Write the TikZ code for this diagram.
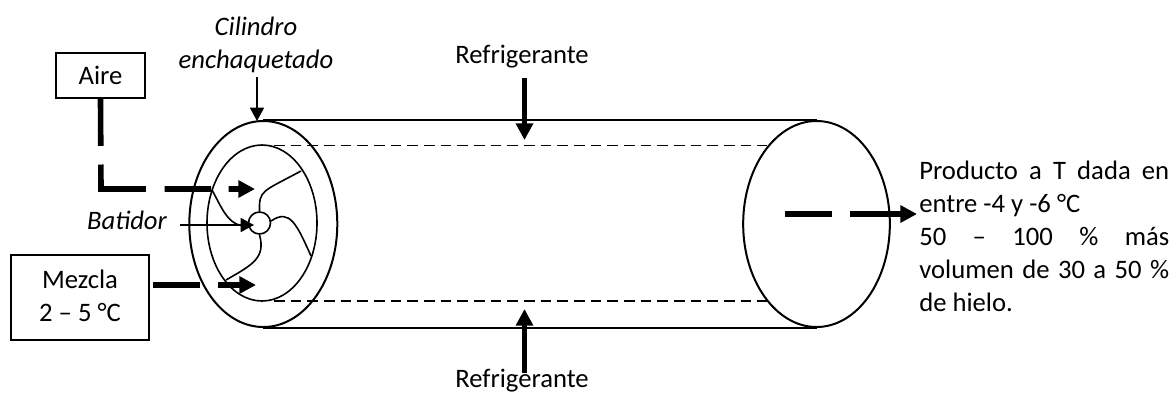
\documentclass[tikz,border=0pt]{standalone}
\usepackage{fontspec}
\setmainfont{Carlito}
\usetikzlibrary{arrows.meta,shapes.geometric}
\tikzset{
    px/.style={x=0.75pt,y=-0.75pt},
    txt/.style={inner sep=0pt,font=\fontsize{20}{24.75}\selectfont,align=center},
    txtbox/.style={txt,draw,line width=1.5pt},
    wall/.style={line width=1.5pt},
    jacket/.style={line width=1.2pt,dash pattern=on 8pt off 4.5pt},
    blade/.style={line width=1.2pt},
    thick flow/.style={line width=4.2pt,-{Triangle[length=12.5pt,width=12.5pt]}},
    thin flow/.style={line width=1.2pt,-{Triangle[length=10pt,width=10.5pt]}}
}
\begin{document}
\begin{tikzpicture}[px]
    \useasboundingbox (0,0) rectangle (1176,394);
    % boxes and labels
    \node[txtbox,minimum width=67pt,minimum height=34pt] (aire) at (100.5,75.5) {Aire};
    \node[txtbox,minimum width=104pt,minimum height=64pt] (mezcla) at (80,297.5) {\raisebox{2pt}{Mezcla}\\\raisebox{2pt}{2 -- 5 °C}};
    \node[txt] (cilindro) at (256,45) {\itshape Cilindro\\\itshape enchaquetado};
    \node[txt] (batidor) at (127,220) {\itshape Batidor};
    \node[txt] (reftop) at (522,57) {Refrigerante};
    \node[txt] (refbot) at (522,381) {Refrigerante};
    \node[txt,anchor=north west,text width=187.5pt,align=justify] (producto) at (919,161) {Producto a T dada en\linebreak entre -4 y -6 °C\par 50 -- 100 \% más\linebreak volumen de 30 a 50 \%\linebreak de hielo.};
    % cylinder
    \node[wall,draw,ellipse,minimum width=111pt,minimum height=154.5pt,inner sep=0pt] (front) at (263.3,224) {};
    \node[wall,draw,ellipse,minimum width=110pt,minimum height=154.5pt,inner sep=0pt] (back) at (816.5,224) {};
    \node[blade,draw,ellipse,minimum width=82.5pt,minimum height=117pt,inner sep=0pt] (inner) at (262,223) {};
    \node[blade,draw,circle,minimum size=16.5pt,inner sep=0pt] (hub) at (259.5,223) {};
    \draw[wall] (front.north) -- (back.north);
    \draw[wall] (front.south) -- (back.south);
    \coordinate (jt1) at (274,145.5);
    \coordinate (jt2) at (767,145.5);
    \coordinate (jb1) at (274,301);
    \coordinate (jb2) at (767,301);
    \draw[jacket] (jt1) -- (jt2);
    \draw[jacket] (jb1) -- (jb2);
    % blades
    \coordinate (b1) at (301,171);
    \coordinate (b2) at (311,256);
    \coordinate (b3) at (226,280);
    \coordinate (b4) at (212,190);
    \draw[blade] (hub.north) .. controls (259,190) and (262,192) .. (b1);
    \draw[blade] (hub.10) .. controls (290,208) and (297,225) .. (b2);
    \draw[blade] (hub.south) .. controls (266,258) and (252,265) .. (b3);
    \draw[blade] (b4) .. controls (222,208) and (228,226) .. (246,226);
    % flows
    \coordinate (airein) at (255,189);
    \coordinate (aircorner) at (101,189);
    \draw[thick flow,dash pattern=on 35pt off 14pt on 52pt off 14pt on 35pt off 13pt on 24pt] (aire.south) -- (aircorner) -- (airein);
    \coordinate (mezclain) at (256,285);
    \draw[thick flow,shorten <=2pt,dash pattern=on 35pt off 14pt on 40pt] (mezcla.east |- mezclain) -- (mezclain);
    \coordinate (salida) at (917,214);
    \coordinate (eje) at (785,214);
    \draw[thick flow,dash pattern=on 35pt off 14pt on 40pt] (eje) -- (salida);
    \coordinate (rt1) at (524.5,78);
    \coordinate (rt2) at (524.5,140);
    \coordinate (rb1) at (524.5,373);
    \coordinate (rb2) at (524.5,309);
    \draw[thick flow] (rt1) -- (rt2);
    \draw[thick flow] (rb1) -- (rb2);
    \coordinate (bat) at (254,225);
    \draw[thin flow,shorten <=10pt] (batidor.east |- bat) -- (bat);
    \coordinate (cil) at (257,77);
    \coordinate (cilend) at (257,121);
    \draw[thin flow] (cil) -- (cilend);
\end{tikzpicture}
\end{document}
